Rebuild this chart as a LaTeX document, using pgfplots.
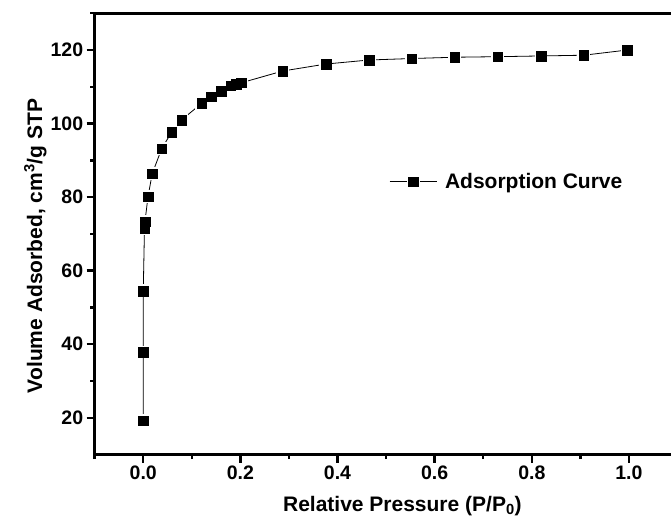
\documentclass[border=0pt]{standalone}
\usepackage{fontspec}
\setmainfont{Liberation Sans}
\usepackage{pgfplots}
\usepackage{pgfplotstable}
\pgfplotsset{compat=1.18}

% adsorption branch
\pgfplotstableread{
x      y
0.000  19.2
0.000  37.9
0.000  54.5
0.0025 71.5
0.0035 73.3
0.0097 80.1
0.0185 86.4
0.038  93.2
0.0585 97.7
0.079  101.0
0.120  105.5
0.140  107.3
0.160  108.85
0.180  110.3
0.191  110.8
0.202  111.1
0.287  114.3
0.376  116.2
0.465  117.3
0.553  117.7
0.641  118.05
0.730  118.2
0.819  118.4
0.907  118.6
0.996  120.0
}\isotherm

\begin{document}
\begin{tikzpicture}
\begin{axis}[
  scale only axis,
  width=582.8pt, height=441.2pt,
  xmin=-0.1, xmax=1.1, ymin=10, ymax=130,
  xtick={0,0.2,...,1.0},
  ytick={20,40,...,120},
  minor xtick={-0.1,0.1,0.3,0.5,0.7,0.9},
  minor ytick={30,50,70,90,110,130},
  xtick pos=bottom, ytick pos=left,
  tick align=outside,
  major tick length=8pt, minor tick length=4.5pt,
  axis line style={line width=2.6pt},
  every tick/.style={black, line width=2.4pt},
  font=\fontsize{21}{24}\selectfont\bfseries,
  tick label style={font=\fontsize{19.5}{22}\selectfont\bfseries},
  /pgf/number format/assume math mode=true,
  xticklabel style={/pgf/number format/.cd, fixed, fixed zerofill, precision=1},
  yticklabel style={/pgf/number format/.cd, fixed, precision=0},
  xlabel={Relative Pressure (P/P\textsubscript{0})},
  ylabel={Volume Adsorbed, cm\textsuperscript{3}/g STP},
  xlabel style={at={(axis description cs:0.528,-0.130)}, anchor=base},
  ylabel style={at={(axis description cs:-0.0904,0.4726)}, anchor=base, rotate=0},
  legend style={at={(axis description cs:0.505,0.618)}, anchor=west,
    draw=none, fill=none, inner sep=0pt,
    nodes={inner sep=0pt, font=\fontsize{21}{24}\selectfont\bfseries},
    /tikz/every odd column/.append style={column sep=8pt}},
]
\addplot[black, line width=0.8pt, no marks, forget plot] table {\isotherm};
\addplot[only marks, mark=square*, mark size=5.6pt,
  mark options={fill=white, draw=white, line width=1.6pt}, forget plot] table {\isotherm};
\addplot[only marks, mark=square*, mark size=4.8pt,
  mark options={fill=black, draw=black, line width=0.3pt},
  legend image code/.code={
    \draw[black, line width=0.8pt] (0pt,0pt) -- (47pt,0pt);
    \fill[white] (17.1pt,-6.4pt) rectangle (29.9pt,6.4pt);
    \fill[black] (18.7pt,-4.8pt) rectangle (28.3pt,4.8pt);
  }] table {\isotherm};
\addlegendentry{Adsorption Curve}
\end{axis}
\pgfresetboundingbox
\useasboundingbox (-94.7pt,-68.5pt) rectangle (576.3pt,454.5pt);
\end{tikzpicture}
\end{document}
